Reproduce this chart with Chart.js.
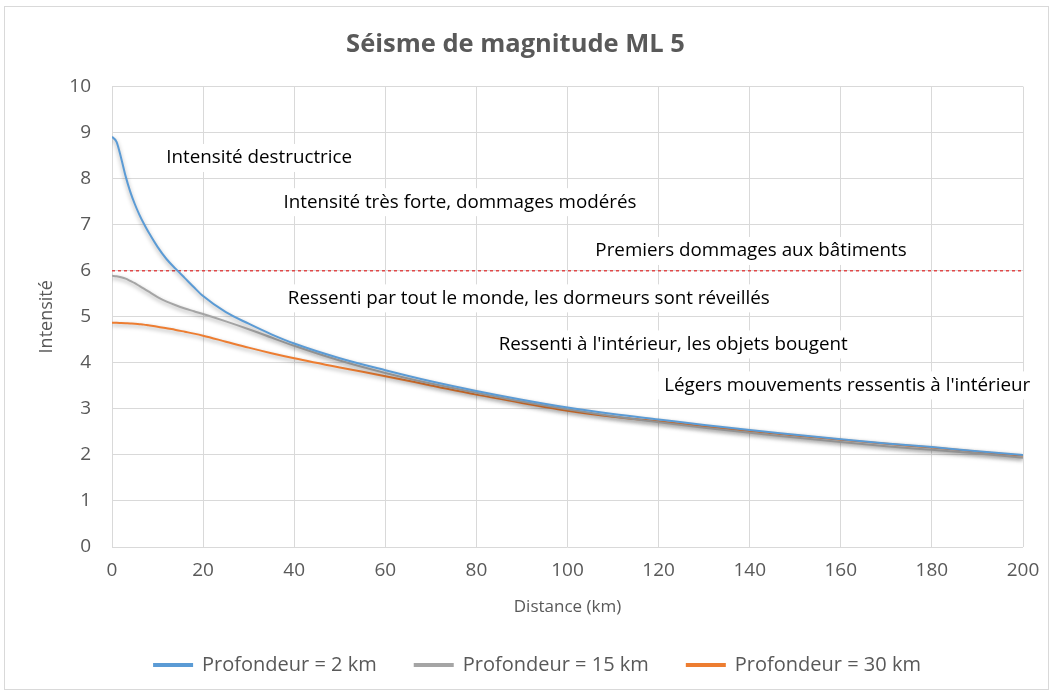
<!DOCTYPE html>
<html>
<head>
<meta charset="utf-8">
<script src="https://cdn.jsdelivr.net/npm/chart.js@4"></script>
<style>
  html, body { margin: 0; padding: 0; background: #fff; }
  #wrap { width: 1053px; height: 695px; }
</style>
</head>
<body>
<div id="wrap"><canvas id="chartSeisme" width="1053" height="695"></canvas></div>
<script>
// distances (km) and intensities
const distances = [0, 1, 2, 3, 4, 5, 6, 7, 8, 10, 12, 14, 16, 18, 20, 25, 30, 35, 40, 50, 60, 70, 80, 90, 100, 110, 120, 130, 140, 150, 160, 170, 180, 190, 200];
const prof2 = [8.91, 8.8, 8.45, 8.05, 7.72, 7.45, 7.22, 7.02, 6.84, 6.52, 6.25, 6.04, 5.84, 5.64, 5.45, 5.1, 4.85, 4.62, 4.42, 4.1, 3.84, 3.6, 3.39, 3.2, 3.03, 2.89, 2.77, 2.65, 2.54, 2.44, 2.34, 2.25, 2.17, 2.08, 2.0];
const prof15 = [5.89, 5.88, 5.86, 5.83, 5.78, 5.73, 5.67, 5.61, 5.55, 5.43, 5.33, 5.25, 5.18, 5.12, 5.06, 4.9, 4.73, 4.55, 4.37, 4.05, 3.78, 3.55, 3.35, 3.16, 2.99, 2.84, 2.71, 2.59, 2.48, 2.38, 2.28, 2.19, 2.11, 2.03, 1.94];
const prof30 = [4.87, 4.87, 4.865, 4.86, 4.855, 4.85, 4.84, 4.83, 4.815, 4.785, 4.75, 4.715, 4.675, 4.635, 4.59, 4.46, 4.33, 4.21, 4.1, 3.9, 3.71, 3.51, 3.31, 3.13, 2.96, 2.83, 2.73, 2.62, 2.52, 2.42, 2.33, 2.24, 2.16, 2.07, 1.98];

const seuil = 6; // premiers dommages

const notes = [
  'Intensité destructrice',
  'Intensité très forte, dommages modérés',
  'Premiers dommages aux bâtiments',
  'Ressenti par tout le monde, les dormeurs sont réveillés',
  "Ressenti à l'intérieur, les objets bougent",
  "Légers mouvements ressentis à l'intérieur"
];
const notesX = [32.3, 76.4, 140.3, 91.5, 123.2, 161.4];
const notesY = [8.45, 7.49, 6.43, 5.40, 4.40, 3.51];

function pts(ys) {
  return distances.map(function (d, i) { return { x: d, y: ys[i] }; });
}

const fontFamily = "'Open Sans', 'Noto Sans', sans-serif";

// white boxes with the intensity descriptions
const notesPlugin = {
  id: 'notes',
  beforeDatasetsDraw(chart) {
    const ctx = chart.ctx;
    const sx = chart.scales.x, sy = chart.scales.y;
    ctx.save();
    ctx.font = '18.8px ' + fontFamily;
    ctx.textAlign = 'center';
    ctx.textBaseline = 'middle';
    notes.forEach(function (txt, i) {
      const px = sx.getPixelForValue(notesX[i]);
      const py = sy.getPixelForValue(notesY[i]);
      const w = ctx.measureText(txt).width + 12;
      ctx.fillStyle = '#fff';
      ctx.fillRect(px - w / 2, py - 14, w, 28);
      ctx.fillStyle = '#000';
      ctx.fillText(txt, px, py);
    });
    ctx.restore();
  }
};

// Excel-ish shadow under the curves
const shadowPlugin = {
  id: 'shadow',
  beforeDatasetDraw(chart, args) {
    if (args.index > 2) return;
    const ctx = chart.ctx;
    ctx.save();
    ctx.shadowColor = 'rgba(0,0,0,0.35)';
    ctx.shadowBlur = 4;
    ctx.shadowOffsetY = 2;
  },
  afterDatasetDraw(chart, args) {
    if (args.index > 2) return;
    chart.ctx.restore();
  }
};

const borderPlugin = {
  id: 'frame',
  beforeDraw(chart) {
    const ctx = chart.ctx;
    ctx.save();
    ctx.fillStyle = '#fff';
    ctx.fillRect(0, 0, chart.width, chart.height);
    ctx.strokeStyle = '#d9d9d9';
    ctx.lineWidth = 1;
    ctx.strokeRect(4.5, 6.5, chart.width - 9, chart.height - 12);
    ctx.restore();
  }
};

// legend sits a little right of the plot centre in the original
const legendShift = {
  id: 'legendShift',
  afterLayout(chart) {
    chart.legend.left += 22;
    chart.legend.right += 22;
  }
};

const data = {
  datasets: [{
    label: 'Profondeur = 2 km',
    data: pts(prof2),
    borderColor: '#5b9bd5',
    backgroundColor: '#5b9bd5'
  }, {
    label: 'Profondeur = 15 km',
    data: pts(prof15),
    borderColor: '#a5a5a5',
    backgroundColor: '#a5a5a5'
  }, {
    label: 'Profondeur = 30 km',
    data: pts(prof30),
    borderColor: '#ed7d31',
    backgroundColor: '#ed7d31'
  }, {
    label: 'seuil',
    data: [{ x: 0, y: seuil }, { x: 200, y: seuil }],
    borderColor: '#e04848',
    borderWidth: 1.3,
    borderDash: [3, 3],
    tension: 0
  }]
};

const config = {
  type: 'line',
  data: data,
  plugins: [borderPlugin, notesPlugin, shadowPlugin, legendShift],
  options: {
    responsive: false,
    animation: false,
    layout: { padding: { left: 8, right: 30, top: 20, bottom: 10 } },
    elements: {
      point: { radius: 0 },
      line: { borderWidth: 2, tension: 0.4, cubicInterpolationMode: 'monotone' }
    },
    scales: {
      x: {
        type: 'linear',
        min: 0, max: 200,
        afterFit: function (s) { s.height = 70; },
        grid: { color: '#d9d9d9', drawTicks: false },
        border: { display: false },
        ticks: { stepSize: 20, padding: 12, color: '#595959', font: { size: 19, family: fontFamily } },
        title: { display: true, text: 'Distance (km)', color: '#595959', font: { size: 17, family: fontFamily }, padding: { top: 0, bottom: 0 } }
      },
      y: {
        min: 0, max: 10,
        afterFit: function (s) { s.width = 104; },
        grid: { color: '#d9d9d9', drawTicks: false },
        border: { display: false },
        ticks: { stepSize: 1, padding: 21, color: '#595959', font: { size: 19, family: fontFamily } },
        title: { display: true, text: 'Intensité', color: '#595959', font: { size: 18, family: fontFamily }, padding: { top: 28, bottom: 0 } }
      }
    },
    plugins: {
      title: {
        display: true,
        text: 'Séisme de magnitude ML 5',
        color: '#595959',
        font: { size: 25.5, weight: 'bold', family: fontFamily },
        padding: { top: 9, bottom: 27 }
      },
      legend: {
        position: 'bottom',
        labels: {
          filter: function (item) { return item.datasetIndex < 3; },
          boxWidth: 38,
          boxHeight: 2,
          padding: 38,
          color: '#595959',
          font: { size: 20, family: fontFamily }
        }
      },
      tooltip: { enabled: false }
    }
  }
};

const chartSeisme = new Chart(document.getElementById('chartSeisme'), config);
</script>
</body>
</html>
